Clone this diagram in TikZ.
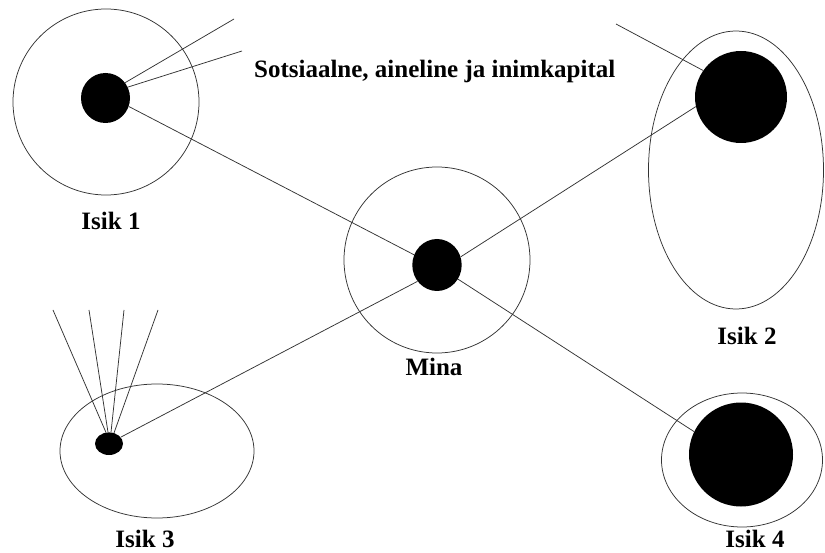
\documentclass[tikz,border=0pt]{standalone}
\usepackage{fontspec}
\setmainfont{Liberation Serif}
\usetikzlibrary{shapes.geometric}
\begin{document}
\begin{tikzpicture}[x=1pt,y=-1pt,
  ring/.style={ellipse, draw=black!80, line width=0.75pt, inner sep=0pt},
  dot/.style={ellipse, fill=black, inner sep=0pt},
  link/.style={draw=black!80, line width=0.75pt},
  lbl/.style={font=\bfseries\fontsize{25}{30}\selectfont, anchor=base, inner sep=0pt}]
\useasboundingbox (0,0) rectangle (825,553);
\clip (0,0) rectangle (825,553);

% outer rings of each person
\node[ring, minimum width=186pt, minimum height=186pt] (r1) at (106,102) {};
\node[ring, minimum width=186pt, minimum height=186pt] (rm) at (437,260) {};
\node[ring, minimum width=175pt, minimum height=278pt] (r2) at (736,170) {};
\node[ring, minimum width=194pt, minimum height=134pt] (r3) at (157,451) {};
\node[ring, minimum width=161pt, minimum height=134pt] (r4) at (742,460) {};

% filled cores
\node[dot, minimum width=49pt, minimum height=50pt] (d1) at (105.5,98) {};
\node[dot, minimum width=49.4pt, minimum height=52pt] (dm) at (437,265) {};
\node[dot, minimum width=92pt, minimum height=92pt] (d2) at (741,97) {};
\node[dot, minimum width=28pt, minimum height=22.6pt] (d3) at (109,443.7) {};
\node[dot, minimum width=104pt, minimum height=104pt] (d4) at (741,454.5) {};

% loose ends of outside ties
\coordinate (e1a) at (234,19);
\coordinate (e1b) at (242,51);
\coordinate (e2) at (616,24);
\coordinate (e3a) at (53,310);
\coordinate (e3b) at (89,310);
\coordinate (e3c) at (124,310);
\coordinate (e3d) at (158,310);

% ties
\draw[link] (d1.38) -- (e1a);
\draw[link] (d1.26) -- (e1b);
\draw[link] (d1.-20) -- (dm.156);
\draw[link] (dm.19) -- (d2.192);
\draw[link] (dm.220) -- (d3.29);
\draw[link] (dm.-34) -- (d4.154);
\draw[link] (d2.145) -- (e2);
\draw[link] (d3.105) -- (e3a);
\draw[link] (d3.95) -- (e3b);
\draw[link] (d3.80) -- (e3c);
\draw[link] (d3.65) -- (e3d);

% labels
\node[lbl] (t) at (434.7,78) {Sotsiaalne, aineline ja inimkapital};
\node[lbl] (l1) at (111,229.5) {Isik 1};
\node[lbl] (lm) at (434,376) {Mina};
\node[lbl] (l2) at (747,345) {Isik 2};
\node[lbl] (l3) at (145,547) {Isik 3};
\node[lbl] (l4) at (755,547) {Isik 4};
\end{tikzpicture}
\end{document}
